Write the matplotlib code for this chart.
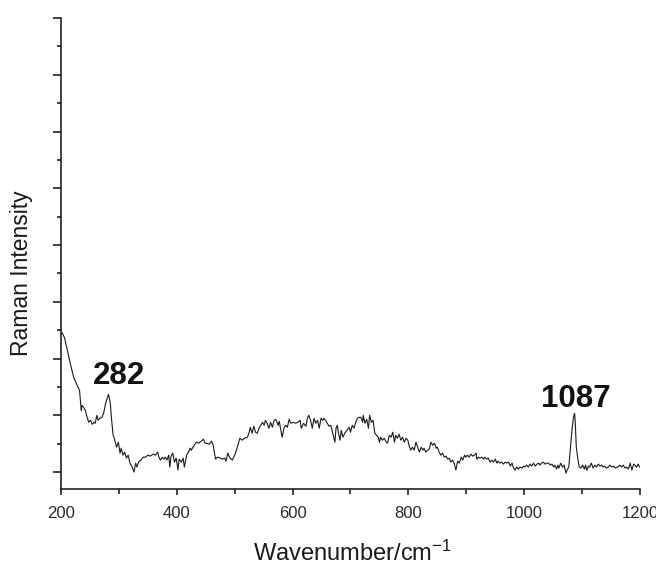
import matplotlib
matplotlib.use("Agg")
import matplotlib.pyplot as plt
from matplotlib.ticker import MultipleLocator

plt.rcParams['font.family'] = ['Liberation Sans', 'DejaVu Sans']
plt.rcParams['mathtext.fontset'] = 'custom'
plt.rcParams['mathtext.rm'] = 'Liberation Sans'
plt.rcParams['mathtext.it'] = 'Liberation Sans'

# Raman spectrum (wavenumber in cm^-1, intensity in arbitrary units)
wavenumber = [
    200, 202, 206, 210, 216, 222, 228, 232, 235, 236, 239, 242, 245, 248, 251, 254, 257, 259,
    262, 264, 267, 271, 274, 277, 282, 285, 287, 290, 292, 296, 299, 302, 304, 307, 310, 313,
    316, 319, 323, 326, 329, 331, 334, 338, 342, 346, 350, 354, 359, 363, 367, 369, 372, 375,
    378, 380, 383, 386, 388, 390, 393, 396, 399, 402, 404, 408, 411, 413, 417, 420, 423, 425,
    430, 434, 438, 442, 446, 449, 451, 456, 460, 463, 465, 467, 470, 475, 479, 483, 485, 488,
    492, 496, 500, 504, 509, 513, 517, 522, 525, 527, 530, 533, 536, 539, 542, 545, 548, 551,
    553, 556, 559, 562, 565, 568, 571, 575, 577, 579, 582, 585, 588, 591, 594, 597, 601, 605,
    609, 613, 615, 619, 623, 626, 628, 631, 634, 637, 640, 643, 646, 649, 652, 654, 657, 660,
    663, 666, 669, 671, 673, 675, 677, 680, 682, 684, 687, 690, 694, 698, 700, 703, 706, 709,
    712, 715, 718, 721, 722, 725, 728, 731, 733, 736, 739, 742, 745, 748, 750, 752, 755, 758,
    761, 764, 767, 770, 773, 776, 778, 781, 784, 787, 790, 793, 796, 799, 801, 804, 807, 810,
    813, 816, 819, 822, 825, 827, 830, 833, 836, 839, 842, 845, 848, 850, 853, 856, 859, 862,
    865, 868, 871, 873, 876, 879, 882, 885, 888, 891, 894, 897, 899, 902, 905, 908, 911, 914,
    917, 918, 921, 924, 927, 930, 932, 935, 938, 941, 944, 947, 950, 953, 955, 958, 961, 964,
    967, 970, 973, 976, 979, 981, 984, 987, 990, 993, 996, 999, 1001, 1004, 1007, 1010, 1013,
    1016, 1019, 1022, 1025, 1027, 1030, 1033, 1036, 1039, 1042, 1045, 1048, 1051, 1053, 1056,
    1058, 1060, 1063, 1066, 1069, 1072, 1074, 1077, 1079, 1082, 1085, 1087, 1088, 1090, 1093,
    1095, 1098, 1101, 1104, 1106, 1108, 1111, 1113, 1116, 1119, 1122, 1125, 1128, 1131, 1134,
    1136, 1139, 1142, 1145, 1148, 1151, 1154, 1157, 1160, 1162, 1165, 1168, 1171, 1174, 1177,
    1180, 1183, 1186, 1189, 1191, 1194, 1197, 1199,
]
intensity = [
    139, 140, 135, 125, 109, 95, 87, 82, 62, 67, 65, 62, 55, 50, 52, 48, 50, 49,
    57, 52, 54, 55, 60, 69, 78, 70, 55, 37, 34, 25, 30, 19, 24, 17, 20, 14,
    17, 9, 5, 0, 9, 5, 10, 12, 15, 15, 17, 16, 18, 17, 20, 15, 12, 15,
    13, 15, 12, 17, 5, 16, 19, 10, 14, 2, 13, 10, 14, 5, 17, 20, 24, 22,
    27, 30, 29, 31, 33, 29, 29, 28, 31, 27, 19, 13, 15, 14, 13, 14, 11, 19,
    14, 12, 17, 24, 34, 32, 34, 35, 40, 45, 39, 46, 40, 39, 44, 47, 50, 47,
    52, 49, 44, 50, 45, 52, 53, 47, 51, 44, 35, 44, 47, 45, 53, 49, 50, 49,
    50, 52, 44, 49, 46, 55, 57, 52, 44, 54, 49, 52, 44, 54, 52, 54, 52, 49,
    46, 47, 40, 35, 30, 44, 47, 37, 32, 42, 35, 39, 42, 45, 40, 47, 44, 50,
    54, 55, 55, 50, 57, 49, 53, 44, 57, 50, 52, 39, 37, 35, 30, 35, 32, 34,
    31, 29, 37, 35, 40, 30, 37, 34, 38, 32, 35, 30, 34, 32, 27, 22, 25, 22,
    30, 25, 20, 25, 22, 24, 20, 22, 23, 30, 27, 29, 24, 25, 20, 17, 19, 15,
    16, 13, 14, 10, 12, 9, 2, 11, 9, 15, 12, 17, 15, 17, 15, 18, 16, 17,
    19, 13, 15, 14, 15, 13, 15, 13, 14, 10, 12, 10, 13, 9, 11, 9, 10, 8,
    10, 9, 10, 6, 9, 5, 2, 5, 3, 5, 4, 6, 5, 7, 5, 8, 6,
    9, 6, 8, 9, 7, 9, 10, 8, 9, 9, 7, 8, 5, 7, 3,
    7, 4, 9, 5, 7, -1, 2, 5, 19, 39, 55, 59, 52, 25, 12,
    5, 4, 7, 3, 7, 2, 6, 5, 9, 4, 7, 5, 8, 6, 7,
    5, 6, 4, 5, 7, 5, 6, 4, 5, 5, 7, 5, 7, 4, 5,
    3, 9, 2, 8, 7, 5, 8, 5,
]

x_major = [200, 400, 600, 800, 1000, 1200]
peak_labels = ["282", "1087"]
peak_label_pos = [(300, 88), (1089, 65)]

fig = plt.figure(figsize=(6.56, 5.67), dpi=100)
ax = fig.add_axes([61 / 656, 1 - 489 / 567, (640 - 61) / 656, (489 - 18) / 567])

ax.plot(wavenumber, intensity, color='#1a1a1a', lw=0.8)

ax.set_xlim(200, 1200)
ax.set_ylim(-17, 456)
ax.set_xticks(x_major)
ax.xaxis.set_minor_locator(MultipleLocator(100))
ax.yaxis.set_major_locator(MultipleLocator(57))
ax.yaxis.set_minor_locator(MultipleLocator(28.5))
ax.set_yticklabels([])
ax.tick_params(axis='y', which='both', labelleft=False)

for s in ['top', 'right']:
    ax.spines[s].set_visible(False)
for s in ['left', 'bottom']:
    ax.spines[s].set_linewidth(1.1)
    ax.spines[s].set_color('#111111')

ax.tick_params(axis='x', which='major', direction='out', length=4.5, width=1.1,
               labelsize=12, pad=7.5, colors='#111111', labelcolor='#2a2a2a')
ax.tick_params(axis='x', which='minor', direction='out', length=3.5, width=1.1, colors='#111111')
ax.tick_params(axis='y', which='major', direction='out', length=6, width=1.1, colors='#111111')
ax.tick_params(axis='y', which='minor', direction='out', length=3, width=1.1, colors='#111111')

for lab, (xp, yp) in zip(peak_labels, peak_label_pos):
    ax.text(xp, yp, lab, ha='center', va='baseline', fontsize=22.5,
            fontweight='bold', color='#111111')

fig.text(352 / 656, 1 - 553 / 567, 'Wavenumber/cm$^{-1}$', ha='center', va='center',
         fontsize=17, color='#1a1a1a')
fig.text(22 / 656, 1 - 273 / 567, 'Raman Intensity', ha='center', va='center',
         rotation=90, fontsize=16.5, color='#1a1a1a')

fig.savefig('out.png', dpi=100)
